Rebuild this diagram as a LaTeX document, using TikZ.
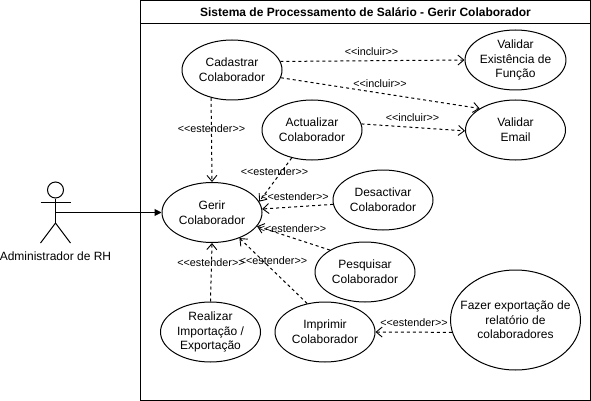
\documentclass[tikz,border=0pt]{standalone}
\usepackage{fontspec}
\setmainfont{Liberation Sans}
\usetikzlibrary{arrows.meta,shapes.geometric}
\tikzset{
  uc/.style={draw=black,line width=1pt,ellipse,minimum width=100pt,minimum height=60pt,inner sep=0pt,align=center,font=\fontsize{12}{14.6}\selectfont},
  dep/.style={draw=black,line width=1pt,dash pattern=on 3pt off 3pt,-{Straight Barb[length=6pt,width=10pt,line width=0.9pt]}},
  assoc/.style={draw=black,line width=1pt,-{Triangle[length=7pt,width=7pt]}},
  lbl/.style={font=\fontsize{10.8}{12}\selectfont,inner sep=0pt},
  stick/.style={draw=black,line width=1pt},
}
\begin{document}
\begin{tikzpicture}[x=1pt,y=-1pt]
\useasboundingbox (0,0) rectangle (591,401);
% system frame
\node[draw=black,line width=1pt,outer sep=0pt,minimum width=449.5pt,minimum height=400pt,inner sep=0pt,anchor=north west] (frame) at (140.5,0.5) {};
\coordinate (tl) at (140.5,23.5);
\coordinate (tr) at (590,23.5);
\draw[stick] (tl) -- (tr);
\node[font=\bfseries\fontsize{12}{15}\selectfont,inner sep=0pt] (title) at (365.5,12) {Sistema de Processamento de Salário - Gerir Colaborador};
% use cases
\node[uc] (cad) at (232,70) {Cadastrar\\Colaborador};
\node[uc] (act) at (312,130) {Actualizar\\Colaborador};
\node[uc] (ger) at (212,212.5) {Gerir\\Colaborador};
\node[uc] (des) at (383,200) {Desactivar\\Colaborador};
\node[uc] (pes) at (365,272) {Pesquisar\\Colaborador};
\node[uc] (imp) at (325,332) {Imprimir\\Colaborador};
\node[uc] (rea) at (210.5,332) {Realizar\\Importação /\\Exportação};
\node[uc,minimum width=130pt,minimum height=100pt,inner xsep=-14pt] (faz) at (515.5,320) {Fazer exportação de\\relatório de\\colaboradores};
\node[uc] (vex) at (515.5,60) {Validar\\Existência de\\Função};
\node[uc] (vem) at (515.5,130) {Validar\\Email};
% actor
\node[draw=black,line width=1pt,circle,minimum size=16pt,inner sep=0pt] (head) at (55.5,190) {};
\coordinate (hip) at (55.5,223);
\coordinate (armL) at (40.5,202.5);
\coordinate (armR) at (70.5,202.5);
\coordinate (legL) at (40.5,243);
\coordinate (legR) at (70.5,243);
\coordinate (chest) at (55.5,212.5);
\draw[stick] (head.south) -- (hip);
\draw[stick] (armL) -- (armR);
\draw[stick] (legL) -- (hip) -- (legR);
\node[font=\fontsize{12}{15}\selectfont,inner sep=0pt] (actor) at (55.5,256) {Administrador de RH};
% connectors
\draw[assoc] (chest) -- (ger.west);
\draw[dep] (cad.10) -- (vex.west);
\draw[dep] (cad.-9) -- (vem.149);
\draw[dep] (act.7) -- (vem.181);
\draw[dep] (cad.233) -- (ger.north);
\draw[dep] (act.234) -- (ger.13);
\draw[dep] (des.185) -- (ger.4);
\draw[dep] (pes.148) -- (ger.-17);
\draw[dep] (imp.122) -- (ger.-43);
\draw[dep] (rea.90) -- (ger.south);
\draw[dep] (faz.191) -- (imp.east);
% labels
\node[lbl] (l1) at (371.5,52) {<{}<incluir>{}>};
\node[lbl] (l2) at (380,84) {<{}<incluir>{}>};
\node[lbl] (l3) at (412.5,118) {<{}<incluir>{}>};
\node[lbl] (l4) at (211.5,129) {<{}<estender>{}>};
\node[lbl] (l5) at (274.5,171.5) {<{}<estender>{}>};
\node[lbl] (l6) at (295,197) {<{}<estender>{}>};
\node[lbl] (l7) at (292.5,229) {<{}<estender>{}>};
\node[lbl] (l8) at (211,263) {<{}<estender>{}>};
\node[lbl] (l9) at (273.5,261) {<{}<estender>{}>};
\node[lbl] (l10) at (414,323) {<{}<estender>{}>};
\end{tikzpicture}
\end{document}
